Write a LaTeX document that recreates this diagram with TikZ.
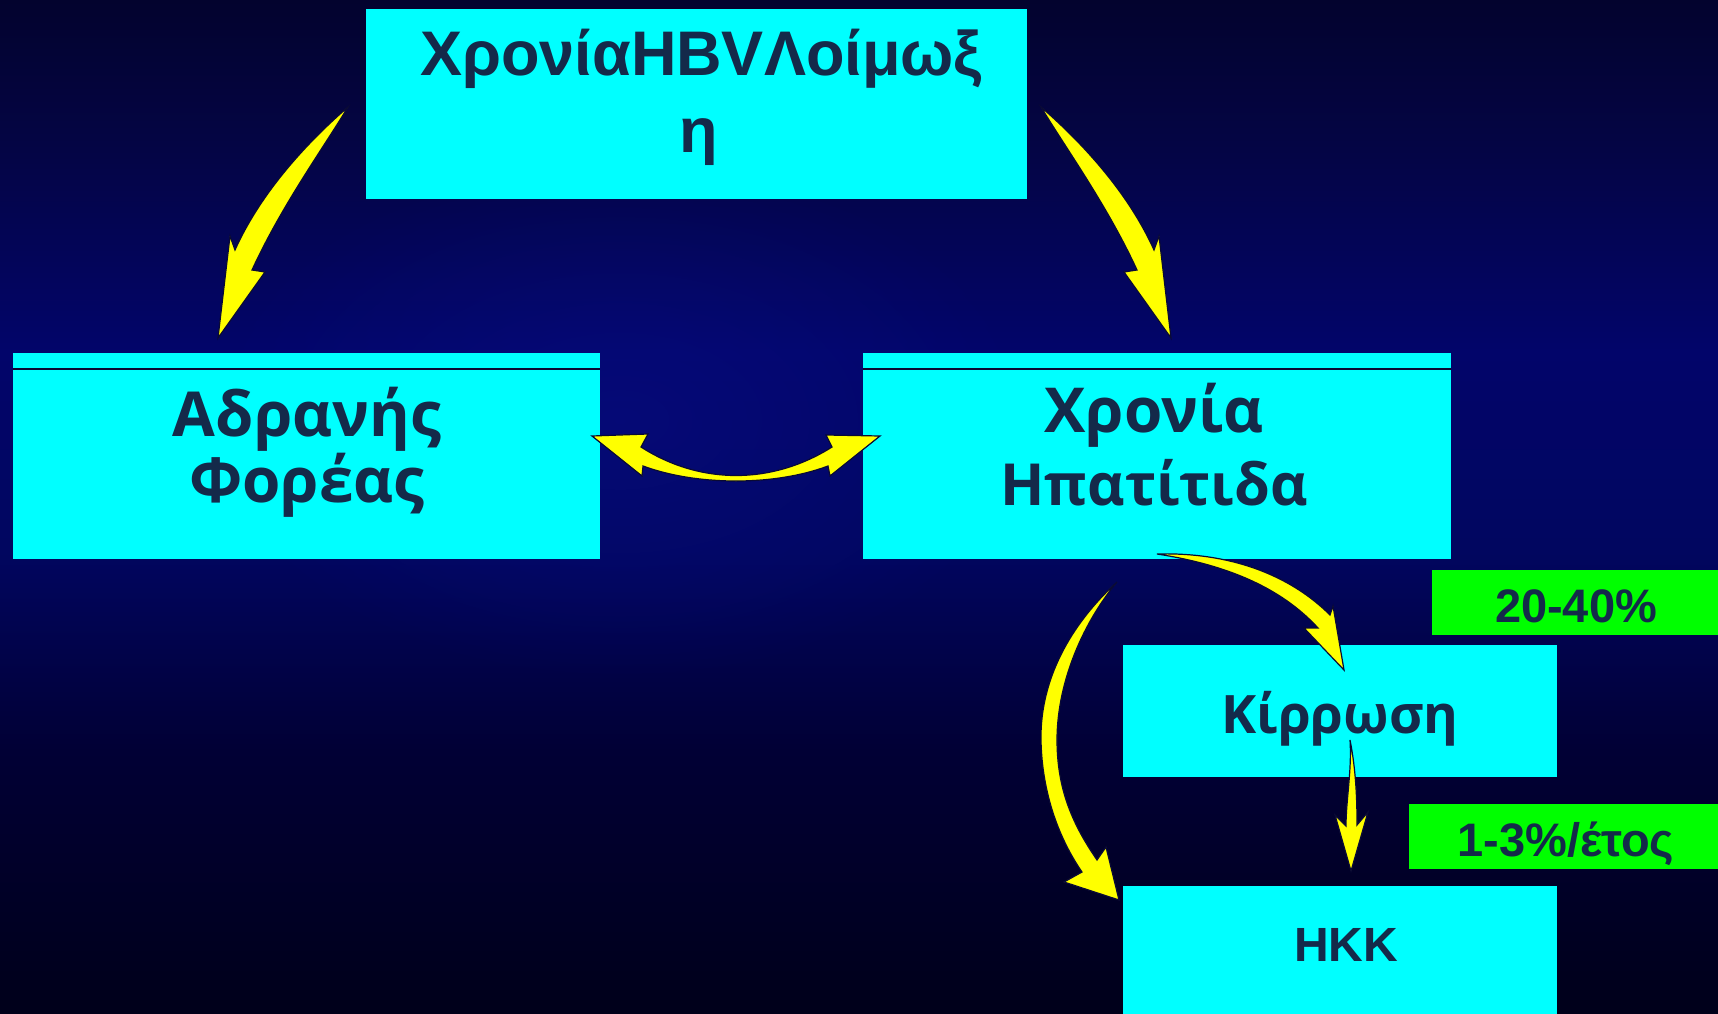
\documentclass[tikz,border=0pt]{standalone}
\usepackage{fontspec}
\setmainfont{Liberation Sans}
\newfontfamily\arialfont{Liberation Sans}
\newfontfamily\humfont{Open Sans}
\usetikzlibrary{fadings}
\definecolor{txt}{HTML}{142A4A}
\definecolor{cyanbox}{HTML}{00FFFF}
\definecolor{greenbox}{HTML}{00FF00}
\definecolor{arrowy}{HTML}{FFFF00}
\definecolor{edgec}{HTML}{0A0A35}
\definecolor{bgA}{HTML}{03032E}
\definecolor{bgB}{HTML}{040545}
\definecolor{bgC}{HTML}{02056A}
\definecolor{bgD}{HTML}{010660}
\definecolor{bgE}{HTML}{010035}
\definecolor{bgF}{HTML}{00001A}
\definecolor{glowc}{HTML}{0A0F8A}
\pgfdeclareverticalshading{bgshade}{100bp}{color(0bp)=(bgF); color(25bp)=(bgF); color(38bp)=(bgE); color(48bp)=(bgD); color(57.7bp)=(bgC); color(67.6bp)=(bgB); color(75bp)=(bgA); color(100bp)=(bgA)}
\tikzfading[name=softglow, inner color=transparent!0, outer color=transparent!100]
\tikzset{
  cbox/.style={fill=cyanbox, draw=none, inner sep=0pt, anchor=north west},
  gbox/.style={fill=greenbox, draw=none, inner sep=0pt, anchor=north west},
  atxt/.style={text=txt, font=\arialfont\bfseries, inner sep=0pt, anchor=base},
  htxt/.style={text=txt, font=\humfont\bfseries, inner sep=0pt, anchor=base},
  yarrow/.style={fill=arrowy, draw=edgec, line width=1.2pt, line join=miter},
  sepline/.style={draw=edgec, line width=1.3pt}
}
\begin{document}
\begin{tikzpicture}[x=1pt,y=-1pt]
\useasboundingbox (0,0) rectangle (1718,1014);
% background
\shade[shading=bgshade] (0,0) rectangle (1718,1014);
\fill[glowc, path fading=softglow, fill opacity=0.45] (620,420) ellipse (420 and 260);

% boxes
\node[cbox, minimum width=661pt, minimum height=190pt] (top) at (366,9) {};
\node[cbox, minimum width=587pt, minimum height=206pt] (carrier) at (13,353) {};
\node[cbox, minimum width=588pt, minimum height=206pt] (hep) at (863,353) {};
\node[cbox, minimum width=434pt, minimum height=132pt] (cirr) at (1123,645) {};
\node[cbox, minimum width=434pt, minimum height=140pt] (hcc) at (1123,886) {};
\node[gbox, minimum width=290pt, minimum height=65pt] (g1) at (1432,570) {};
\node[gbox, minimum width=313pt, minimum height=65pt] (g2) at (1409,804) {};

\draw[sepline] (carrier.north west) ++(0,16) coordinate (c1) -- (carrier.north east |- c1);
\draw[sepline] (hep.north west) ++(0,16) coordinate (h1) -- (hep.north east |- h1);

% texts
\node[atxt, font=\arialfont\bfseries\fontsize{63}{63}\selectfont] (t1) at (701,76) {ΧρονίαHBVΛοίμωξ};
\node[atxt, font=\arialfont\bfseries\fontsize{63}{63}\selectfont] (t2) at (699,152) {η};
\node[htxt, font=\humfont\bfseries\fontsize{62}{62}\selectfont] (a1) at (307,436) {Αδρανής};
\node[htxt, font=\humfont\bfseries\fontsize{62}{62}\selectfont] (a2) at (307,502) {Φορέας};
\node[htxt, font=\humfont\bfseries\fontsize{62}{62}\selectfont] (b1) at (1154,432) {Χρονία};
\node[htxt, font=\humfont\bfseries\fontsize{58}{58}\selectfont] (b2) at (1154,505) {Ηπατίτιδα};
\node[htxt, font=\humfont\bfseries\fontsize{53}{53}\selectfont] (k1) at (1340,733) {Κίρρωση};
\node[atxt, font=\arialfont\bfseries\fontsize{48}{48}\selectfont] (h1t) at (1346,961) {HKK};
\node[atxt, font=\arialfont\bfseries\fontsize{47}{47}\selectfont] (p1) at (1576,622) {20-40\%};
\node[atxt, font=\arialfont\bfseries\fontsize{47}{47}\selectfont] (p2) at (1566,856) {1-3\%/έτος};

% arrow: top -> carrier
\draw[yarrow] (348,107) .. controls (310,140) and (262,190) .. (235,250)
  -- (230,236) -- (218,338) -- (265,272) -- (252,270)
  .. controls (282,205) and (322,150) .. cycle;
% arrow: top -> chronic hepatitis (mirror)
\draw[yarrow] (1041,107) .. controls (1079,140) and (1127,190) .. (1154,250)
  -- (1159,236) -- (1171,338) -- (1124,272) -- (1137,270)
  .. controls (1107,205) and (1067,150) .. cycle;
% double arrow carrier <-> hepatitis
\draw[yarrow] (592,436) -- (648,434) -- (641,447)
  .. controls (700,485) and (772,485) .. (832,447)
  -- (826,435) -- (880,436) -- (830,476) -- (828,466)
  .. controls (775,486) and (697,486) .. (643,466)
  -- (642,476) -- cycle;
% arrow hepatitis -> cirrhosis
\draw[yarrow] (1157,554) .. controls (1230,552) and (1290,575) .. (1330,615)
  -- (1333,606) -- (1344,670) -- (1304,628) -- (1318,628)
  .. controls (1285,592) and (1235,566) .. cycle;
% arrow hepatitis -> HCC (big loop)
\draw[yarrow] (1117,582) .. controls (1070,625) and (1040,680) .. (1041,740)
  .. controls (1042,795) and (1060,840) .. (1082,872)
  -- (1064,882) -- (1119,900) -- (1106,847) -- (1097,860)
  .. controls (1073,825) and (1057,790) .. (1057,740)
  .. controls (1057,680) and (1085,620) .. cycle;
% arrow cirrhosis -> HCC
\draw[yarrow] (1350,740) .. controls (1352,770) and (1346,800) .. (1346,826)
  -- (1335,815) -- (1351,871) -- (1368,812) -- (1357,825)
  .. controls (1357,800) and (1356,770) .. cycle;
\end{tikzpicture}
\end{document}
